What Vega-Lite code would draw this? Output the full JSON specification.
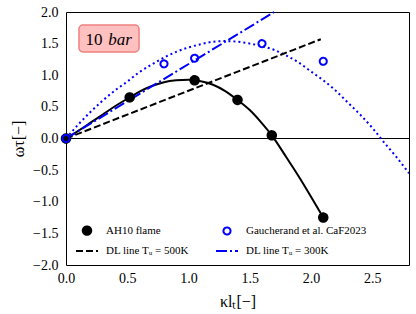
{
  "$schema": "https://vega.github.io/schema/vega-lite/v6.json",
  "width": 343,
  "height": 253,
  "autosize": {"type": "none"},
  "padding": {"left": 66, "top": 12, "right": 7, "bottom": 49},
  "background": "white",
  "config": {
    "view": {"stroke": "black", "strokeWidth": 1},
    "axis": {"domain": false, "grid": false, "tickSize": 0, "tickColor": "black", "tickWidth": 1,
      "labelFont": "Liberation Serif", "labelFontSize": 14, "labelColor": "black",
      "titleFont": "Liberation Serif", "titleFontSize": 16, "titleFontWeight": "normal", "titleColor": "black",
      "labelFlush": false, "labelOverlap": false},
    "legend": {"orient": "bottom-left", "columns": 2, "title": null,
      "labelFont": "Liberation Serif", "labelFontSize": 11, "labelColor": "black",
      "offset": 9, "padding": 0, "columnPadding": 22, "rowPadding": -5, "labelOffset": 7, "symbolStrokeWidth": 2, "symbolOpacity": 1}
  },
  "data": {"values": [
    {"series": "AH10 flame", "x": 0, "y": 0},
    {"series": "AH10 flame", "x": 0.52, "y": 0.65},
    {"series": "AH10 flame", "x": 1.05, "y": 0.92},
    {"series": "AH10 flame", "x": 1.4, "y": 0.61},
    {"series": "AH10 flame", "x": 1.68, "y": 0.05},
    {"series": "AH10 flame", "x": 2.1, "y": -1.25},
    {"series": "Gaucherand et al. CaF2023", "x": 0, "y": 0},
    {"series": "Gaucherand et al. CaF2023", "x": 0.8, "y": 1.18},
    {"series": "Gaucherand et al. CaF2023", "x": 1.05, "y": 1.27},
    {"series": "Gaucherand et al. CaF2023", "x": 1.6, "y": 1.5},
    {"series": "Gaucherand et al. CaF2023", "x": 2.1, "y": 1.22},
    {"series": "DL line Tᵤ = 500K", "x": 0, "y": 0},
    {"series": "DL line Tᵤ = 500K", "x": 2.08, "y": 1.57},
    {"series": "DL line Tᵤ = 300K", "x": 0, "y": 0},
    {"series": "DL line Tᵤ = 300K", "x": 1.7, "y": 2.0},
    {"series": "fitAH", "x": 0, "y": 0},
    {"series": "fitAH", "x": 0.1, "y": 0.12},
    {"series": "fitAH", "x": 0.2, "y": 0.25},
    {"series": "fitAH", "x": 0.3, "y": 0.38},
    {"series": "fitAH", "x": 0.4, "y": 0.51},
    {"series": "fitAH", "x": 0.52, "y": 0.65},
    {"series": "fitAH", "x": 0.6, "y": 0.74},
    {"series": "fitAH", "x": 0.7, "y": 0.83},
    {"series": "fitAH", "x": 0.8, "y": 0.89},
    {"series": "fitAH", "x": 0.9, "y": 0.92},
    {"series": "fitAH", "x": 1.0, "y": 0.93},
    {"series": "fitAH", "x": 1.05, "y": 0.92},
    {"series": "fitAH", "x": 1.1, "y": 0.905},
    {"series": "fitAH", "x": 1.2, "y": 0.85},
    {"series": "fitAH", "x": 1.3, "y": 0.75},
    {"series": "fitAH", "x": 1.4, "y": 0.61},
    {"series": "fitAH", "x": 1.5, "y": 0.45},
    {"series": "fitAH", "x": 1.6, "y": 0.24},
    {"series": "fitAH", "x": 1.68, "y": 0.05},
    {"series": "fitAH", "x": 1.8, "y": -0.3},
    {"series": "fitAH", "x": 1.9, "y": -0.6},
    {"series": "fitAH", "x": 2.0, "y": -0.92},
    {"series": "fitAH", "x": 2.1, "y": -1.25},
    {"series": "fitG", "x": 0, "y": 0},
    {"series": "fitG", "x": 0.1, "y": 0.22},
    {"series": "fitG", "x": 0.2, "y": 0.42},
    {"series": "fitG", "x": 0.3, "y": 0.6},
    {"series": "fitG", "x": 0.4, "y": 0.76},
    {"series": "fitG", "x": 0.5, "y": 0.9},
    {"series": "fitG", "x": 0.6, "y": 1.05},
    {"series": "fitG", "x": 0.7, "y": 1.17},
    {"series": "fitG", "x": 0.8, "y": 1.28},
    {"series": "fitG", "x": 0.9, "y": 1.37},
    {"series": "fitG", "x": 1.0, "y": 1.44},
    {"series": "fitG", "x": 1.1, "y": 1.49},
    {"series": "fitG", "x": 1.2, "y": 1.53},
    {"series": "fitG", "x": 1.3, "y": 1.54},
    {"series": "fitG", "x": 1.4, "y": 1.53},
    {"series": "fitG", "x": 1.5, "y": 1.5},
    {"series": "fitG", "x": 1.6, "y": 1.46},
    {"series": "fitG", "x": 1.7, "y": 1.4},
    {"series": "fitG", "x": 1.8, "y": 1.31},
    {"series": "fitG", "x": 1.9, "y": 1.2},
    {"series": "fitG", "x": 2.0, "y": 1.06},
    {"series": "fitG", "x": 2.1, "y": 0.92},
    {"series": "fitG", "x": 2.2, "y": 0.76},
    {"series": "fitG", "x": 2.3, "y": 0.57},
    {"series": "fitG", "x": 2.4, "y": 0.38},
    {"series": "fitG", "x": 2.5, "y": 0.17},
    {"series": "fitG", "x": 2.6, "y": -0.07},
    {"series": "fitG", "x": 2.7, "y": -0.3},
    {"series": "fitG", "x": 2.8, "y": -0.55},
    {"series": "box", "x": 0.106, "x2": 0.596, "y": 1.794, "y2": 1.368},
    {"series": "txt10", "x": 0.16, "y": 1.478, "text": "10"},
    {"series": "txtbar", "x": 0.345, "y": 1.478, "text": "bar"}
  ]},
  "layer": [
    {
      "mark": {"type": "rule", "color": "black", "strokeWidth": 1},
      "encoding": {
        "y": {"datum": 0, "type": "quantitative", "axis": null}
      }
    },
    {
      "transform": [{"filter": "datum.series == 'fitG'"}],
      "mark": {"type": "line", "color": "#0000ff", "strokeWidth": 2, "strokeDash": [2, 3], "interpolate": "monotone", "clip": true},
      "encoding": {
        "x": {"field": "x", "type": "quantitative", "scale": {"domain": [0, 2.8], "nice": false, "zero": false},
          "title": "κlₜ[−]", "axis": {"orient": "bottom", "labelPadding": 6, "titlePadding": 8,
            "labelFont": "Liberation Serif", "titleFont": "Liberation Serif",
            "values": [0,0.1,0.2,0.3,0.4,0.5,0.6,0.7,0.8,0.9,1,1.1,1.2,1.3,1.4,1.5,1.6,1.7,1.8,1.9,2,2.1,2.2,2.3,2.4,2.5,2.6,2.7,2.8],
            "labelExpr": "abs(datum.value*2-round(datum.value*2))<0.001 ? format(datum.value, '.1f') : ''",
            "encode": {"ticks": {"update": {"y2": {"signal": "abs(datum.value*2-round(datum.value*2))<0.001 ? -4 : -2"}}}}}},
        "y": {"field": "y", "type": "quantitative", "scale": {"domain": [-2, 2], "nice": false, "zero": false},
          "title": "ωτ[−]", "axis": {"orient": "left", "labelPadding": 8, "titlePadding": 6,
            "labelFont": "Liberation Serif", "titleFont": "Liberation Serif",
            "values": [-2,-1.9,-1.8,-1.7,-1.6,-1.5,-1.4,-1.3,-1.2,-1.1,-1,-0.9,-0.8,-0.7,-0.6,-0.5,-0.4,-0.3,-0.2,-0.1,0,0.1,0.2,0.3,0.4,0.5,0.6,0.7,0.8,0.9,1,1.1,1.2,1.3,1.4,1.5,1.6,1.7,1.8,1.9,2],
            "labelExpr": "abs(datum.value*2-round(datum.value*2))<0.001 ? format(datum.value, '.1f') : ''",
            "encode": {"ticks": {"update": {"x2": {"signal": "abs(datum.value*2-round(datum.value*2))<0.001 ? 4 : 2"}}}}}}
      }
    },
    {
      "transform": [{"filter": "datum.series == 'fitAH'"}],
      "mark": {"type": "line", "color": "black", "strokeWidth": 2, "interpolate": "monotone"},
      "encoding": {
        "x": {"field": "x", "type": "quantitative", "axis": null},
        "y": {"field": "y", "type": "quantitative", "axis": null}
      }
    },
    {
      "transform": [{"filter": "datum.series == 'DL line Tᵤ = 500K'"}],
      "mark": {"type": "line", "color": "black", "strokeWidth": 2, "strokeDash": [7, 3]},
      "encoding": {
        "x": {"field": "x", "type": "quantitative", "axis": null},
        "y": {"field": "y", "type": "quantitative", "axis": null}
      }
    },
    {
      "transform": [{"filter": "datum.series == 'DL line Tᵤ = 300K'"}],
      "mark": {"type": "line", "color": "#0000ff", "strokeWidth": 2, "strokeDash": [11, 3, 2, 3]},
      "encoding": {
        "x": {"field": "x", "type": "quantitative", "axis": null},
        "y": {"field": "y", "type": "quantitative", "axis": null}
      }
    },
    {
      "transform": [{"filter": "datum.series == 'AH10 flame' || datum.series == 'Gaucherand et al. CaF2023'"}],
      "mark": {"type": "point", "filled": true, "strokeWidth": 2, "opacity": 1},
      "encoding": {
        "x": {"field": "x", "type": "quantitative", "axis": null},
        "y": {"field": "y", "type": "quantitative", "axis": null},
        "fill": {"field": "series", "type": "nominal",
          "scale": {"domain": ["AH10 flame", "DL line Tᵤ = 500K", "Gaucherand et al. CaF2023", "DL line Tᵤ = 300K"],
                    "range": ["black", "transparent", "transparent", "transparent"]}},
        "stroke": {"field": "series", "type": "nominal",
          "scale": {"domain": ["AH10 flame", "DL line Tᵤ = 500K", "Gaucherand et al. CaF2023", "DL line Tᵤ = 300K"],
                    "range": ["black", "black", "#0000ff", "#0000ff"]}},
        "shape": {"field": "series", "type": "nominal",
          "scale": {"domain": ["AH10 flame", "DL line Tᵤ = 500K", "Gaucherand et al. CaF2023", "DL line Tᵤ = 300K"],
                    "range": ["circle", "stroke", "circle", "stroke"]}},
        "size": {"field": "series", "type": "nominal",
          "scale": {"type": "ordinal", "domain": ["AH10 flame", "DL line Tᵤ = 500K", "Gaucherand et al. CaF2023", "DL line Tᵤ = 300K"],
                    "range": [72, 484, 50, 484]}},
        "strokeDash": {"field": "series", "type": "nominal",
          "scale": {"domain": ["AH10 flame", "DL line Tᵤ = 500K", "Gaucherand et al. CaF2023", "DL line Tᵤ = 300K"],
                    "range": [[1, 0], [7, 3], [1, 0], [11, 3, 2, 3]]}},
        "order": {"field": "series", "sort": "ascending"}
      }
    },
    {
      "transform": [{"filter": "datum.series == 'box'"}],
      "mark": {"type": "rect", "fill": "#ffc0c0", "stroke": "#f08080", "strokeWidth": 1.5, "cornerRadius": 4},
      "encoding": {
        "x": {"field": "x", "type": "quantitative", "axis": null},
        "x2": {"field": "x2"},
        "y": {"field": "y", "type": "quantitative", "axis": null},
        "y2": {"field": "y2"}
      }
    },
    {
      "transform": [{"filter": "datum.series == 'txt10'"}],
      "mark": {"type": "text", "font": "Liberation Serif", "fontSize": 17, "align": "left", "baseline": "alphabetic", "color": "black"},
      "encoding": {
        "x": {"field": "x", "type": "quantitative", "axis": null},
        "y": {"field": "y", "type": "quantitative", "axis": null},
        "text": {"field": "text"}
      }
    },
    {
      "transform": [{"filter": "datum.series == 'txtbar'"}],
      "mark": {"type": "text", "font": "Liberation Serif", "fontSize": 17, "fontStyle": "italic", "align": "left", "baseline": "alphabetic", "color": "black"},
      "encoding": {
        "x": {"field": "x", "type": "quantitative", "axis": null},
        "y": {"field": "y", "type": "quantitative", "axis": null},
        "text": {"field": "text"}
      }
    },
    {
      "transform": [{"filter": "datum.series == 'fitG'"}],
      "mark": {"type": "point", "opacity": 0},
      "encoding": {
        "x": {"field": "x", "type": "quantitative",
          "axis": {"orient": "top", "labels": false, "title": null,
            "values": [0,0.1,0.2,0.3,0.4,0.5,0.6,0.7,0.8,0.9,1,1.1,1.2,1.3,1.4,1.5,1.6,1.7,1.8,1.9,2,2.1,2.2,2.3,2.4,2.5,2.6,2.7,2.8],
            "encode": {"ticks": {"update": {"y2": {"signal": "abs(datum.value*2-round(datum.value*2))<0.001 ? 4 : 2"}}}}}},
        "y": {"field": "y", "type": "quantitative",
          "axis": {"orient": "right", "labels": false, "title": null,
            "values": [-2,-1.9,-1.8,-1.7,-1.6,-1.5,-1.4,-1.3,-1.2,-1.1,-1,-0.9,-0.8,-0.7,-0.6,-0.5,-0.4,-0.3,-0.2,-0.1,0,0.1,0.2,0.3,0.4,0.5,0.6,0.7,0.8,0.9,1,1.1,1.2,1.3,1.4,1.5,1.6,1.7,1.8,1.9,2],
            "encode": {"ticks": {"update": {"x2": {"signal": "abs(datum.value*2-round(datum.value*2))<0.001 ? -4 : -2"}}}}}}
      }
    }
  ],
  "resolve": {"axis": {"x": "independent", "y": "independent"}}
}
